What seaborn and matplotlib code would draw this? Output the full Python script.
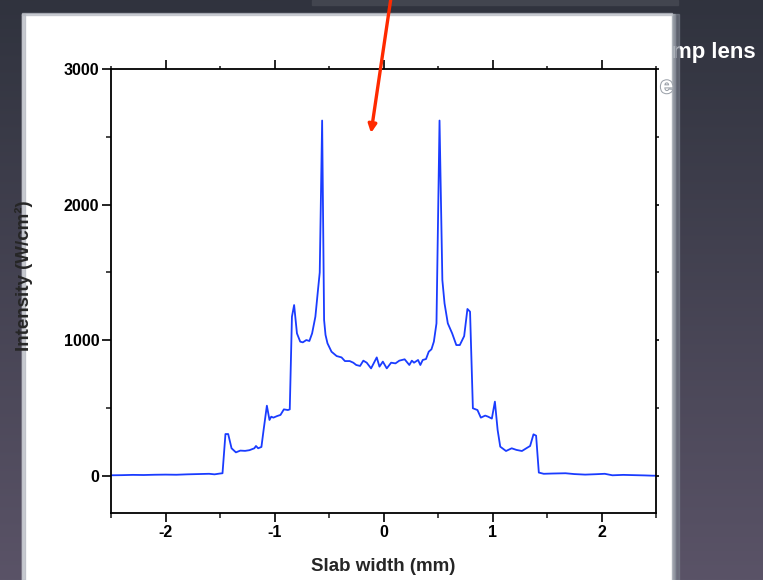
import numpy as np
import pandas as pd
import matplotlib
matplotlib.use("Agg")
import matplotlib.pyplot as plt
import matplotlib.patheffects as pe
from matplotlib.patches import Rectangle
from matplotlib.ticker import MultipleLocator
import seaborn as sns

# Transverse pump intensity profile across the slab
slab_width_mm = [
    -2.50, -2.40, -2.30, -2.20, -2.10, -2.00, -1.90, -1.80, -1.70, -1.60, -1.55, -1.50,
    -1.477, -1.45, -1.425, -1.394, -1.354, -1.314, -1.27, -1.23, -1.185, -1.17, -1.15,
    -1.12, -1.10, -1.07, -1.046, -1.03, -1.01, -0.975, -0.945, -0.914, -0.877, -0.86,
    -0.84, -0.82, -0.794, -0.764, -0.74, -0.708, -0.68, -0.655, -0.625, -0.60, -0.585,
    -0.563, -0.545, -0.532, -0.514, -0.477, -0.43, -0.385, -0.354, -0.31, -0.277, -0.25,
    -0.215, -0.185, -0.154, -0.114, -0.062, -0.037, -0.006, 0.03, 0.07, 0.11, 0.145,
    0.194, 0.237, 0.26, 0.28, 0.317, 0.338, 0.36, 0.39, 0.415, 0.44, 0.462, 0.486,
    0.514, 0.54, 0.56, 0.59, 0.63, 0.668, 0.70, 0.74, 0.77, 0.794, 0.82, 0.862, 0.893,
    0.933, 0.96, 0.994, 1.022, 1.047, 1.071, 1.124, 1.176, 1.22, 1.27, 1.31, 1.345,
    1.376, 1.40, 1.425, 1.47, 1.55, 1.67, 1.75, 1.85, 1.95, 2.03, 2.10, 2.20, 2.30,
    2.40, 2.47, 2.50,
]
intensity_w_cm2 = [
    5, 6, 8, 7, 9, 10, 9, 12, 14, 16, 12, 18,
    20, 309, 309, 204, 174, 187, 185, 190, 204, 221, 204,
    214, 339, 518, 413, 437, 430, 442, 450, 491, 486, 491,
    1174, 1260, 1051, 990, 985, 1002, 995, 1051, 1174, 1380, 1500,
    2620, 1150, 1040, 978, 916, 884, 874, 847, 847, 835, 818,
    811, 850, 835, 793, 874, 806, 843, 793, 835, 830, 850,
    860, 818, 850, 835, 855, 818, 855, 862, 916, 934, 990, 1125,
    2620, 1444, 1272, 1125, 1051, 965, 965, 1031, 1231, 1211, 499, 486, 430,
    445, 437, 423, 548, 339, 216, 184, 204, 192, 184, 204, 221,
    307, 297, 25, 16, 18, 20, 14, 10, 13, 16, 5, 8, 6,
    4, 2, 2,
]

x_ticks = [-2, -1, 0, 1, 2]
y_ticks = [0, 1000, 2000, 3000]

profile = pd.DataFrame({"x": slab_width_mm, "y": intensity_w_cm2})

sns.set_style("ticks")
plt.rcParams["font.family"] = ["Liberation Sans", "DejaVu Sans"]
plt.rcParams["font.weight"] = "bold"

W, H = 763, 580
fig = plt.figure(figsize=(W / 100, H / 100), dpi=100)

# slide background
bg = fig.add_axes([0, 0, 1, 1], zorder=-10)
top = np.array([0x30, 0x33, 0x3e]) / 255
bot = np.array([0x5a, 0x53, 0x67]) / 255
t = np.linspace(0, 1, 256)[:, None, None]
grad = top * (1 - t) + bot * t
bg.imshow(grad, aspect="auto", extent=[0, 1, 0, 1], origin="upper")
bg.set_xlim(0, 1)
bg.set_ylim(0, 1)
bg.axis("off")

def px(x0, y0, w, h):
    return (x0 / W, 1 - (y0 + h) / H, w / W, h / H)

# faint bar along the top of the slide
x0, y0, w, h = px(312, 0, 366, 5)
fig.add_artist(Rectangle((x0, y0), w, h, transform=fig.transFigure,
                         color="#42454f", zorder=-9))

fig.text(672 / W, 1 - 58 / H, "mp lens", color="white", fontsize=16,
         fontweight="bold", ha="left", va="baseline", zorder=-8)

# white panel with soft edges
x0, y0, w, h = px(22, 14, 650, 566)
fig.add_artist(Rectangle((x0, y0), w, h, transform=fig.transFigure,
                         color="white", zorder=-7))
for (ex, ew, ec, ea) in [(22, 3, "#a8acb6", 0.6), (672, 3, "#a4aab2", 0.8), (675, 4, "#7c828e", 0.6)]:
    x0, y0, w, h = px(ex, 14, ew, 566)
    fig.add_artist(Rectangle((x0, y0), w, h, transform=fig.transFigure,
                             color=ec, alpha=ea, zorder=-6))
x0, y0, w, h = px(22, 13, 650, 2)
fig.add_artist(Rectangle((x0, y0), w, h, transform=fig.transFigure,
                         color="#b8bcc4", alpha=0.7, zorder=-6))

fig.text(660 / W, 1 - 93 / H, "e", color="white", fontsize=17,
         fontweight="bold", ha="left", va="baseline", zorder=5,
         path_effects=[pe.withStroke(linewidth=1.5, foreground="#9ca2aa")])

# chart
ax = fig.add_axes([111 / W, 1 - 513 / H, 545 / W, 444 / H])
ax.patch.set_alpha(0)
sns.lineplot(data=profile, x="x", y="y", ax=ax, color="#1a3cff",
             linewidth=1.3, sort=False, estimator=None)

ax.set_xlim(-2.5, 2.5)
ax.set_ylim(-273, 3000)
ax.set_xticks(x_ticks)
ax.set_yticks(y_ticks)
ax.xaxis.set_minor_locator(MultipleLocator(0.5))
ax.yaxis.set_minor_locator(MultipleLocator(500))
ax.set_xticklabels([str(v) for v in x_ticks])
ax.set_yticklabels([str(v) for v in y_ticks])

for s in ax.spines.values():
    s.set_visible(True)
    s.set_linewidth(1.3)
    s.set_color("black")

ax.tick_params(which="major", direction="out", length=6.5, width=1.2,
               labelsize=11.5, pad=2, colors="black",
               top=True, right=True, labeltop=False, labelright=False)
ax.tick_params(which="minor", direction="out", length=3.6, width=1.2,
               top=True, right=True)
for tk in ax.xaxis.get_major_ticks() + ax.xaxis.get_minor_ticks():
    tk.tick2line.set_markersize(2.5)
for tk in ax.yaxis.get_major_ticks() + ax.yaxis.get_minor_ticks():
    tk.tick2line.set_markersize(2.5)
for lab in ax.get_xticklabels() + ax.get_yticklabels():
    lab.set_fontweight("bold")
ax.tick_params(axis="x", pad=2)

ax.set_xlabel("Slab width (mm)", fontsize=13.5, fontweight="bold", labelpad=13)
ax.set_ylabel("Intensity (W/cm²)", fontsize=13.5, fontweight="bold", labelpad=0)
ax.yaxis.set_label_coords(-(111 - 33) / 545, (513 - 276) / 444)

# red pointer arrow
ax.annotate("", xy=(371 / W, 1 - 133 / H), xytext=(391.5 / W, 1.01),
            xycoords="figure fraction", textcoords="figure fraction",
            arrowprops=dict(arrowstyle="-|>", color="#ff2a00", lw=2.4,
                            mutation_scale=12, shrinkA=0, shrinkB=0),
            annotation_clip=False, zorder=10)

fig.savefig("out.png", dpi=100)
